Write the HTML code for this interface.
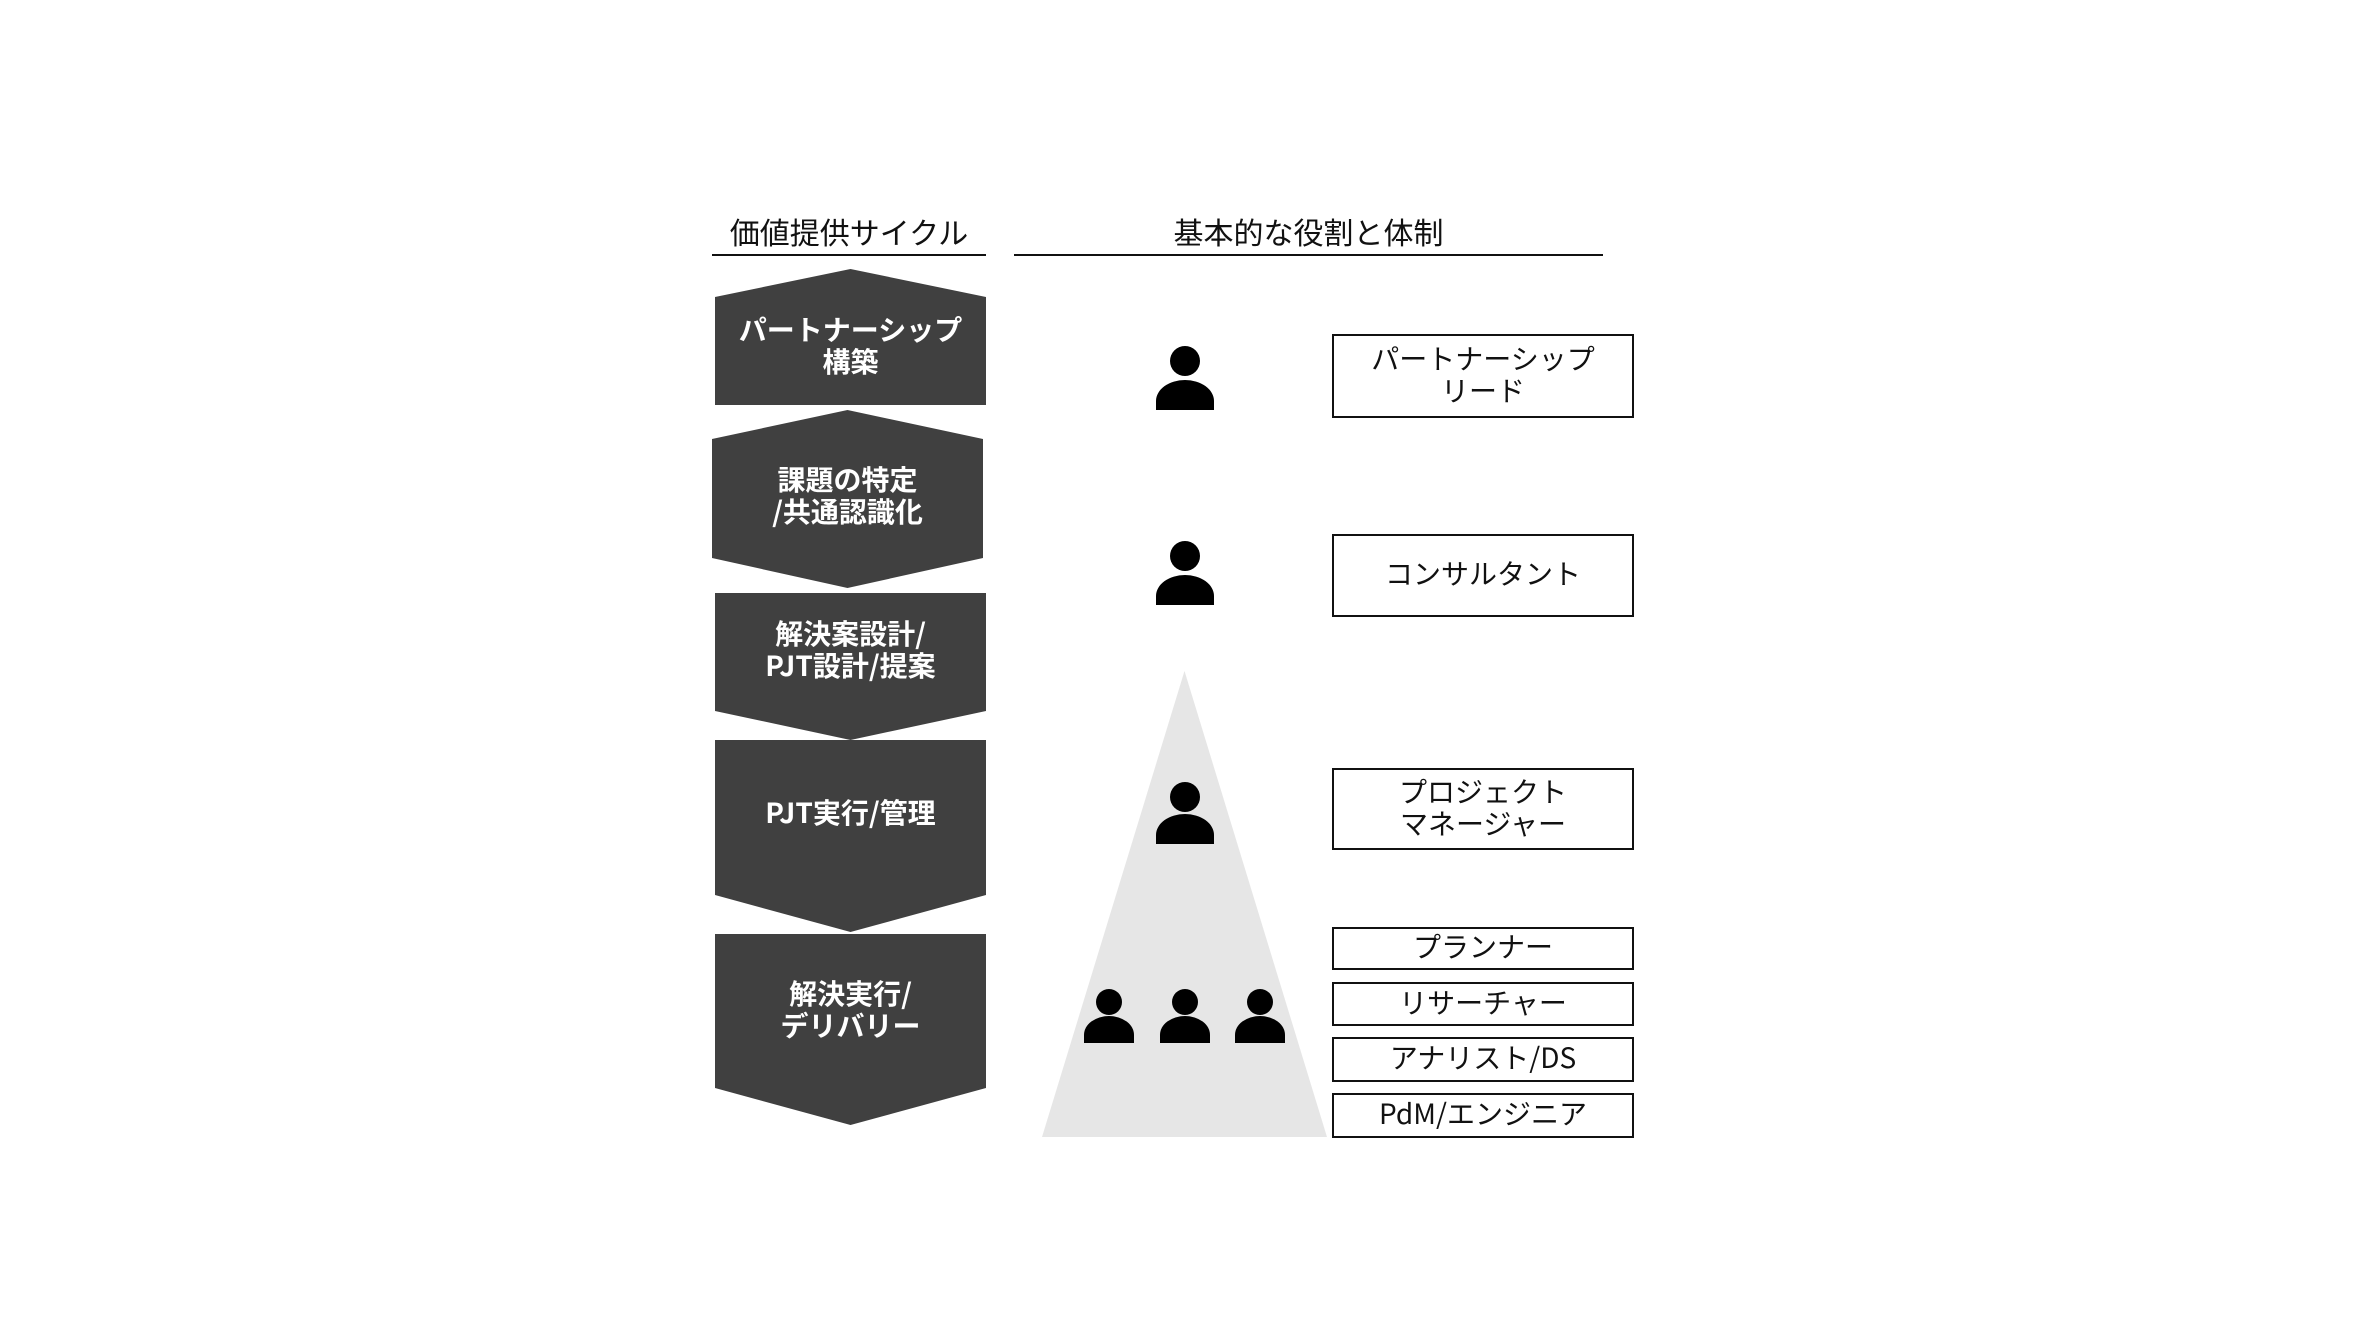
<!DOCTYPE html>
<html><head><meta charset="utf-8"><style>
body{margin:0;width:2370px;height:1326px;background:#fff;position:relative;overflow:hidden;font-family:"Noto Sans CJK JP","Liberation Sans",sans-serif;}
#w{position:absolute;left:0;top:2px;width:2370px;height:1324px;}
.a{position:absolute;}
.hd{position:absolute;font-size:30px;color:#111;text-align:center;line-height:30px;}
.ln{position:absolute;height:2px;background:#111;}
.sh{position:absolute;background:#404040;color:#fff;font-weight:bold;font-size:28px;}
.t{position:absolute;left:0;right:0;text-align:center;line-height:32px;color:#fff;font-weight:bold;font-size:28px;margin-top:-3px;}
.bx{position:absolute;left:1332px;width:298px;border:2px solid #111;display:flex;align-items:center;justify-content:center;text-align:center;font-size:28px;line-height:32px;color:#111;box-sizing:content-box;padding-bottom:5px;}
.hdd{position:absolute;border-radius:50%;background:#000;}
.bd{position:absolute;background:#000;border-radius:50% 50% 0 0/70% 70% 0 0;}
</style></head><body><div id="w">
<div class="hd" style="left:712px;width:274px;top:214px;">価値提供サイクル</div>
<div class="ln" style="left:712px;width:274px;top:252px;"></div>
<div class="hd" style="left:1014px;width:589px;top:214px;">基本的な役割と体制</div>
<div class="ln" style="left:1014px;width:589px;top:252px;"></div>

<div class="sh" style="left:715px;width:271px;top:267px;height:136px;clip-path:polygon(50% 0,100% 28px,100% 100%,0 100%,0 28px);">
<div class="t" style="top:47px;">パートナーシップ<br>構築</div></div>
<div class="sh" style="left:712px;width:271px;top:408px;height:178px;clip-path:polygon(50% 0,100% 29px,100% 148px,50% 100%,0 148px,0 29px);">
<div class="t" style="top:56px;">課題の特定<br>/共通認識化</div></div>
<div class="sh" style="left:715px;width:271px;top:591px;height:147px;clip-path:polygon(0 0,100% 0,100% 118px,50% 100%,0 118px);">
<div class="t" style="top:27px;">解決案設計/<br>PJT設計/提案</div></div>
<div class="sh" style="left:715px;width:271px;top:738px;height:192px;clip-path:polygon(0 0,100% 0,100% 155px,50% 100%,0 155px);">
<div class="t" style="top:59px;">PJT実行/管理</div></div>
<div class="sh" style="left:715px;width:271px;top:932px;height:191px;clip-path:polygon(0 0,100% 0,100% 154px,50% 100%,0 154px);">
<div class="t" style="top:46px;">解決実行/<br>デリバリー</div></div>

<div class="a" style="left:1042px;top:669px;width:285px;height:466px;background:#e6e6e6;clip-path:polygon(50% 0,100% 100%,0 100%);"></div>

<div class="hdd" style="left:1170px;top:344px;width:30px;height:30px;"></div>
<div class="bd" style="left:1156px;top:378px;width:58px;height:30px;"></div>
<div class="hdd" style="left:1170px;top:539px;width:30px;height:30px;"></div>
<div class="bd" style="left:1156px;top:573px;width:58px;height:30px;"></div>
<div class="hdd" style="left:1170px;top:780px;width:30px;height:30px;"></div>
<div class="bd" style="left:1156px;top:812px;width:58px;height:30px;"></div>

<div class="hdd" style="left:1096px;top:987px;width:26px;height:26px;"></div>
<div class="bd" style="left:1084px;top:1014px;width:50px;height:27px;"></div>
<div class="hdd" style="left:1172px;top:987px;width:26px;height:26px;"></div>
<div class="bd" style="left:1160px;top:1014px;width:50px;height:27px;"></div>
<div class="hdd" style="left:1247px;top:987px;width:26px;height:26px;"></div>
<div class="bd" style="left:1235px;top:1014px;width:50px;height:27px;"></div>

<div class="bx" style="top:332px;height:75px;">パートナーシップ<br>リード</div>
<div class="bx" style="top:532px;height:74px;">コンサルタント</div>
<div class="bx" style="top:766px;height:73px;">プロジェクト<br>マネージャー</div>
<div class="bx" style="top:925px;height:34px;">プランナー</div>
<div class="bx" style="top:980px;height:35px;">リサーチャー</div>
<div class="bx" style="top:1035px;height:36px;">アナリスト/DS</div>
<div class="bx" style="top:1091px;height:36px;">PdM/エンジニア</div>
</div></body></html>
